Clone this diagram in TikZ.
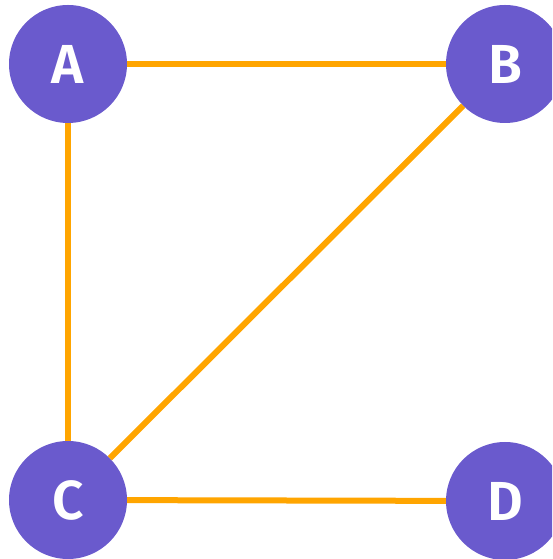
\documentclass[tikz,border=0pt]{standalone}
\usepackage{fontspec}
\setmainfont{Fira Sans}[BoldFont={Fira Sans SemiBold}]
\definecolor{vertexfill}{HTML}{6A5ACD}
\definecolor{edgecolor}{HTML}{FFA500}
\tikzset{
  vertex/.style={circle, fill=vertexfill, minimum size=118pt, inner sep=0pt,
    text=white, font=\bfseries\fontsize{55}{55}\selectfont},
  link/.style={edgecolor, line width=6pt}
}
\begin{document}
\begin{tikzpicture}[x=1pt, y=1pt, line join=round]
  % --- frame -----------------------------------------------------
  \clip (0,0) rectangle (552,559);
  \useasboundingbox (0,0) rectangle (552,559);
  % --- vertices --------------------------------------------------
  \node[vertex] (A) at (68,495) {A};
  \node[vertex] (B) at (505,495) {B};
  \node[vertex] (C) at (68,59) {C};
  \node[vertex] (D) at (505,58) {D};
  % --- edges -----------------------------------------------------
  \draw[link] (A) -- (B);
  \draw[link] (A) -- (C);
  \draw[link] (B) -- (C);
  \draw[link] (C) -- (D);
\end{tikzpicture}
\end{document}
